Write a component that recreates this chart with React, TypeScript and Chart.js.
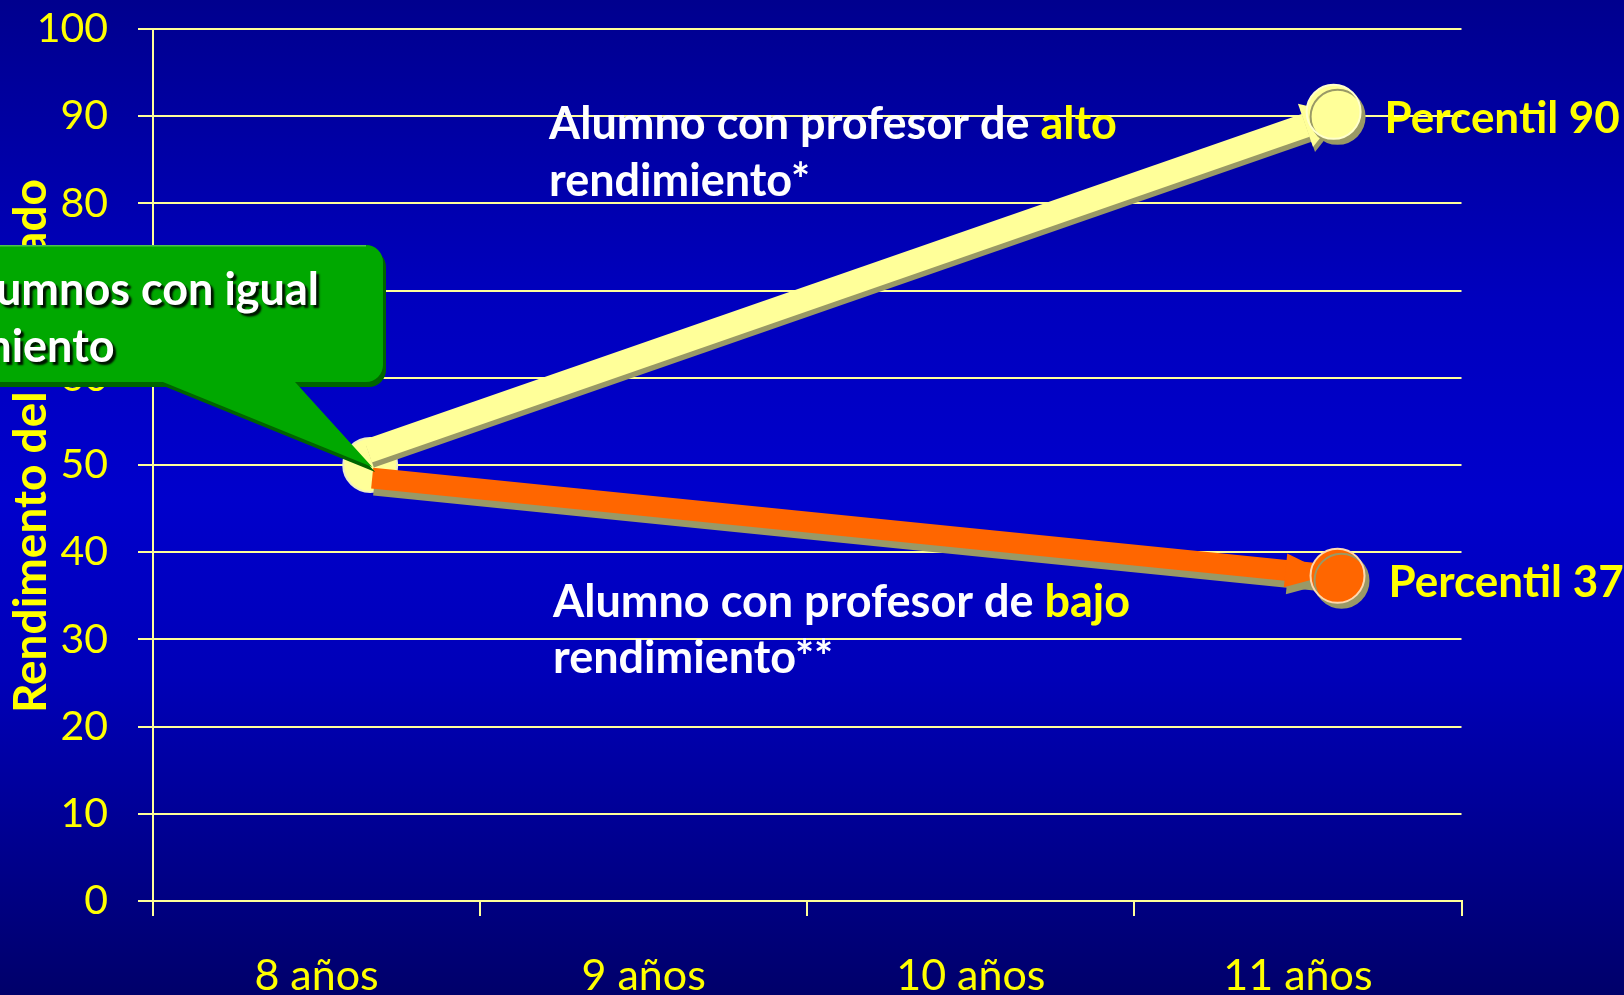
import React, { useEffect, useRef } from 'react';
import { Chart, registerables } from 'chart.js';

Chart.register(...registerables);

// ---------- data ----------
const categories = ['8 años', '9 años', '10 años', '11 años'];
const yTitle = 'Rendimento del alumnado';

const startAges = [8.164];
const startValues = [50];

const altoAges = [8.157, 11.127];
const altoValues = [51.6, 90.3];

const bajoAges = [8.17, 11.099];
const bajoValues = [48.5, 37.4];

const endAges = [11.109, 11.121];
const endValues = [90.5, 37.3];
const endLabels = ['Percentil 90', 'Percentil 37'];

const altoCaption = ['Alumno con profesor de ', 'alto', 'rendimiento*'];
const bajoCaption = ['Alumno con profesor de ', 'bajo', 'rendimiento**'];
const calloutLines = ['Dos alumnos con igual', 'rendimiento'];

// ---------- style ----------
const FONT = 'Lato, "Open Sans", sans-serif';
const YELLOW = '#FFFF00';
const GRID = '#FFFF99';
const CREAM = '#FFFF99';
const ORANGE = '#FF6600';
const OLIVE = '#999966';

const toPoints = (xs: number[], ys: number[]) => xs.map((x, i) => ({ x, y: ys[i] }));

const bgPlugin = {
  id: 'bgGradient',
  beforeDraw(chart: any) {
    const { ctx, width, height } = chart;
    const g = ctx.createLinearGradient(0, 0, 0, height);
    g.addColorStop(0, '#00008E');
    g.addColorStop(0.3, '#0000BE');
    g.addColorStop(0.5, '#0000CC');
    g.addColorStop(0.68, '#0000B8');
    g.addColorStop(1, '#00006A');
    ctx.save();
    ctx.fillStyle = g;
    ctx.fillRect(0, 0, width, height);
    ctx.restore();
  },
};

const shadowArrowPlugin = {
  id: 'shadowArrow',
  beforeDatasetDraw(chart: any, args: any) {
    const ds: any = chart.data.datasets[args.index];
    const ctx = chart.ctx;
    ctx.save();
    if (ds.shadowStyle) {
      ctx.shadowColor = ds.shadowStyle.color;
      ctx.shadowOffsetX = ds.shadowStyle.dx;
      ctx.shadowOffsetY = ds.shadowStyle.dy;
      ctx.shadowBlur = 0;
    }
  },
  afterDatasetDraw(chart: any, args: any) {
    const ds: any = chart.data.datasets[args.index];
    const ctx = chart.ctx;
    if (ds.arrowHead) {
      const pts = args.meta.data;
      const a = pts[pts.length - 2];
      const b = pts[pts.length - 1];
      const dx = b.x - a.x;
      const dy = b.y - a.y;
      const len = Math.hypot(dx, dy);
      const ux = dx / len;
      const uy = dy / len;
      const nx = -uy;
      const ny = ux;
      const { length, halfWidth } = ds.arrowHead;
      const bx = b.x - ux * length;
      const by = b.y - uy * length;
      ctx.beginPath();
      ctx.moveTo(b.x, b.y);
      ctx.lineTo(bx + nx * halfWidth, by + ny * halfWidth);
      ctx.lineTo(bx - nx * halfWidth, by - ny * halfWidth);
      ctx.closePath();
      ctx.fillStyle = ds.borderColor;
      ctx.fill();
    }
    ctx.restore();
  },
};

function drawRich(ctx: CanvasRenderingContext2D, segs: [string, string][], x: number, y: number) {
  let cx = x;
  for (const [t, c] of segs) {
    ctx.fillStyle = c;
    ctx.fillText(t, cx, y);
    cx += ctx.measureText(t).width;
  }
}

const annotationPlugin = {
  id: 'annotations',
  afterDraw(chart: any) {
    const ctx: CanvasRenderingContext2D = chart.ctx;
    ctx.save();

    // y axis title (rotated)
    ctx.save();
    ctx.font = `bold 46px ${FONT}`;
    ctx.fillStyle = YELLOW;
    ctx.textAlign = 'left';
    ctx.textBaseline = 'middle';
    ctx.translate(31, 713);
    ctx.rotate(-Math.PI / 2);
    ctx.fillText(yTitle, 0, 0);
    ctx.restore();

    ctx.font = `bold 45px ${FONT}`;
    ctx.textAlign = 'left';
    ctx.textBaseline = 'alphabetic';

    // captions
    drawRich(ctx, [[altoCaption[0], '#FFFFFF'], [altoCaption[1], YELLOW]], 549, 139);
    ctx.fillStyle = '#FFFFFF';
    ctx.fillText(altoCaption[2], 549, 196);
    drawRich(ctx, [[bajoCaption[0], '#FFFFFF'], [bajoCaption[1], YELLOW]], 553, 617);
    ctx.fillStyle = '#FFFFFF';
    ctx.fillText(bajoCaption[2], 553, 673);

    // end labels
    ctx.font = `bold 44px ${FONT}`;
    const endMeta = chart.getDatasetMeta(3);
    endMeta.data.forEach((pt: any, i: number) => {
      ctx.fillStyle = YELLOW;
      ctx.fillText(endLabels[i], pt.x + 51, pt.y + 21);
    });

    // callout
    const sp = chart.getDatasetMeta(0).data[0];
    const tipX = sp.x + 2;
    const tipY = sp.y + 2;
    const L = -40, T = 245, R = 383, B = 382, r = 17;
    ctx.save();
    ctx.shadowColor = '#006400';
    ctx.shadowOffsetX = 3;
    ctx.shadowOffsetY = 5;
    ctx.beginPath();
    ctx.moveTo(L, T);
    ctx.lineTo(R - r, T);
    ctx.arcTo(R, T, R, T + r, r);
    ctx.lineTo(R, B - r);
    ctx.arcTo(R, B, R - r, B, r);
    ctx.lineTo(295, B);
    ctx.lineTo(tipX, tipY);
    ctx.lineTo(163, B);
    ctx.lineTo(L, B);
    ctx.closePath();
    ctx.fillStyle = '#00A800';
    ctx.fill();
    ctx.restore();
    // top highlight
    ctx.strokeStyle = '#4CC24C';
    ctx.lineWidth = 1.5;
    ctx.beginPath();
    ctx.moveTo(L, T + 0.75);
    ctx.lineTo(R - r, T + 0.75);
    ctx.stroke();

    ctx.save();
    ctx.font = `bold 45px ${FONT}`;
    ctx.shadowColor = 'rgba(0,0,0,0.9)';
    ctx.shadowOffsetX = 3;
    ctx.shadowOffsetY = 3;
    ctx.shadowBlur = 2;
    ctx.fillStyle = '#FFFFFF';
    const w1 = ctx.measureText(calloutLines[0]).width;
    const tx = 319 - w1;
    ctx.fillText(calloutLines[0], tx, 305);
    ctx.fillText(calloutLines[1], tx, 362);
    ctx.restore();

    ctx.restore();
  },
};

export default function App() {
  const ref = useRef<HTMLCanvasElement | null>(null);

  useEffect(() => {
    if (!ref.current) return;
    const chart = new Chart(ref.current, {
      type: 'line',
      data: {
        labels: categories,
        datasets: [
          {
            label: 'Inicio',
            data: toPoints(startAges, startValues),
            xAxisID: 'xv',
            showLine: false,
            pointRadius: 27,
            pointBackgroundColor: CREAM,
            pointBorderColor: '#EDEDC8',
            pointBorderWidth: 2,
            order: 3,
            clip: false,
          } as any,
          {
            label: 'Profesor de alto rendimiento',
            data: toPoints(altoAges, altoValues),
            xAxisID: 'xv',
            borderColor: CREAM,
            borderWidth: 24,
            borderCapStyle: 'butt',
            pointRadius: 0,
            order: 2,
            clip: false,
            shadowStyle: { color: OLIVE, dx: 2, dy: 5 },
            arrowHead: { length: 36, halfWidth: 23 },
          } as any,
          {
            label: 'Profesor de bajo rendimiento',
            data: toPoints(bajoAges, bajoValues),
            xAxisID: 'xv',
            borderColor: ORANGE,
            borderWidth: 21,
            borderCapStyle: 'butt',
            pointRadius: 0,
            order: 2,
            clip: false,
            shadowStyle: { color: OLIVE, dx: 2, dy: 7 },
            arrowHead: { length: 45, halfWidth: 17 },
          } as any,
          {
            label: 'Final',
            data: toPoints(endAges, endValues),
            xAxisID: 'xv',
            showLine: false,
            pointRadius: 27,
            pointBackgroundColor: [CREAM, ORANGE],
            pointBorderColor: ['#FFFFCC', '#FFD9B0'],
            pointBorderWidth: 2,
            order: 1,
            clip: false,
            shadowStyle: { color: OLIVE, dx: 4, dy: 5 },
          } as any,
        ],
      },
      options: {
        responsive: false,
        animation: false,
        devicePixelRatio: 1,
        events: [],
        layout: { padding: { top: 28.3, right: 162.5, left: 0, bottom: 0 } },
        plugins: {
          legend: { display: false },
          tooltip: { enabled: false },
        },
        scales: {
          x: {
            type: 'category',
            position: 'bottom',
            offset: true,
            afterFit: (s: any) => {
              s.height = 94;
              s.paddingLeft = 0;
              s.paddingRight = 0;
            },
            grid: {
              offset: true,
              drawOnChartArea: false,
              drawTicks: true,
              tickLength: 15,
              color: GRID,
              lineWidth: 2,
            },
            border: { display: true, color: GRID, width: 2 },
            ticks: {
              color: YELLOW,
              font: { family: FONT, size: 43 },
              padding: 34,
              maxRotation: 0,
              autoSkip: false,
            },
          },
          xv: {
            type: 'linear',
            display: false,
            min: 7.5,
            max: 11.5,
          },
          y: {
            type: 'linear',
            position: 'left',
            min: 0,
            max: 100,
            afterFit: (s: any) => {
              s.width = 153;
              s.paddingTop = 0;
              s.paddingBottom = 0;
            },
            grid: {
              color: GRID,
              lineWidth: 2,
              tickLength: 15,
              drawTicks: true,
            },
            border: { display: true, color: GRID, width: 2 },
            ticks: {
              stepSize: 10,
              color: YELLOW,
              font: { family: FONT, size: 41 },
              padding: 30,
            },
          },
        },
      },
      plugins: [bgPlugin, shadowArrowPlugin, annotationPlugin],
    } as any);
    return () => chart.destroy();
  }, []);

  return (
    <div style={{ position: 'fixed', left: 0, top: 0, width: 1624, height: 995, overflow: 'hidden' }}>
      <canvas ref={ref} width={1624} height={995} style={{ display: 'block' }} />
    </div>
  );
}
